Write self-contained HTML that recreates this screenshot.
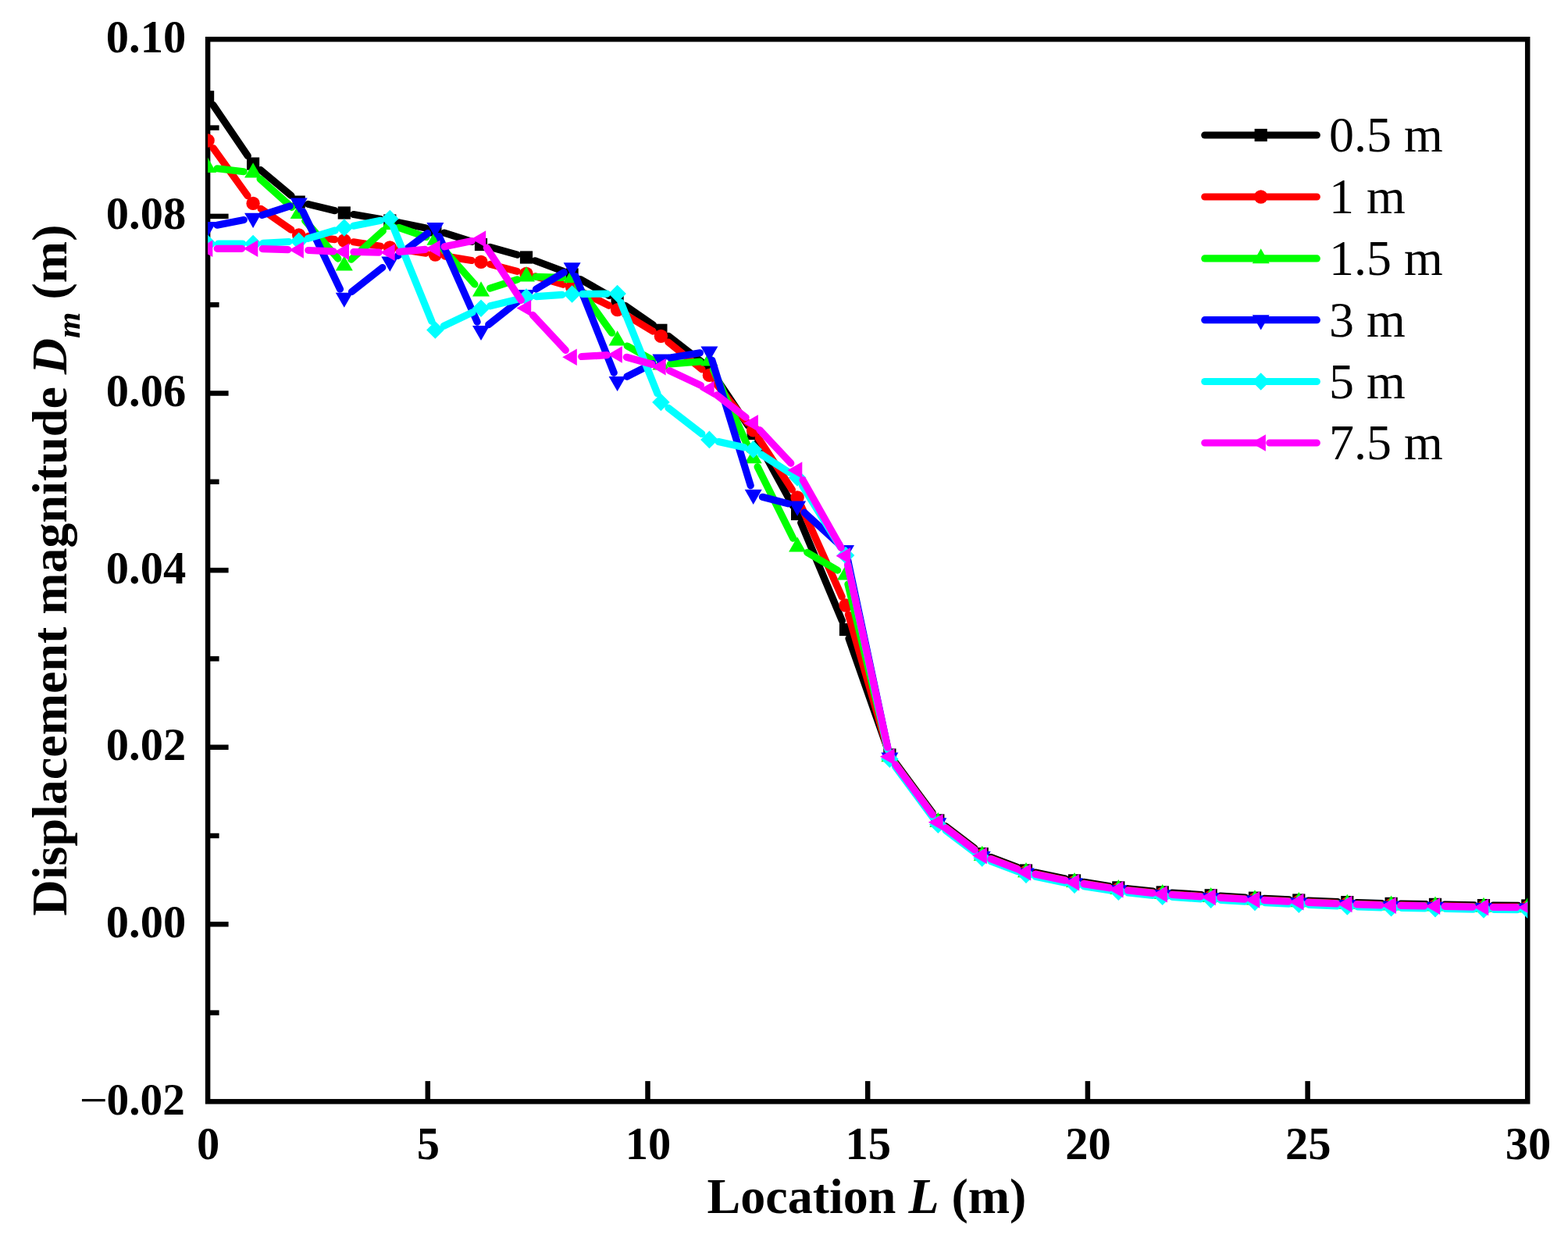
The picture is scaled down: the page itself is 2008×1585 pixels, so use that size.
<!DOCTYPE html>
<html><head><meta charset="utf-8"><title>Displacement magnitude vs Location</title>
<style>
html,body{margin:0;padding:0;background:#fff;}
body{width:2008px;height:1585px;overflow:hidden;}
svg{display:block;}
text{font-family:"Liberation Serif","Times New Roman",serif;fill:#000;}
</style></head><body>
<svg width="2008" height="1585" viewBox="0 0 2008 1585">
<rect x="0" y="0" width="2008" height="1585" fill="#fff"/>
<defs><clipPath id="pc"><rect x="266.1" y="50.3" width="1690.1" height="1360.0"/></clipPath></defs>

<g stroke="#000" stroke-width="6.5" fill="none">
<rect x="266.1" y="50.3" width="1690.1" height="1360.0" stroke-linejoin="miter"/>
<line x1="266.1" y1="1296.6" x2="280.6" y2="1296.6"/>
<line x1="266.1" y1="1183.3" x2="292.6" y2="1183.3"/>
<line x1="266.1" y1="1070.0" x2="280.6" y2="1070.0"/>
<line x1="266.1" y1="956.7" x2="292.6" y2="956.7"/>
<line x1="266.1" y1="843.4" x2="280.6" y2="843.4"/>
<line x1="266.1" y1="730.1" x2="292.6" y2="730.1"/>
<line x1="266.1" y1="616.8" x2="280.6" y2="616.8"/>
<line x1="266.1" y1="503.5" x2="292.6" y2="503.5"/>
<line x1="266.1" y1="390.2" x2="280.6" y2="390.2"/>
<line x1="266.1" y1="276.9" x2="292.6" y2="276.9"/>
<line x1="266.1" y1="163.6" x2="280.6" y2="163.6"/>
<line x1="547.8" y1="1410.3" x2="547.8" y2="1384.1"/>
<line x1="829.5" y1="1410.3" x2="829.5" y2="1384.1"/>
<line x1="1111.2" y1="1410.3" x2="1111.2" y2="1384.1"/>
<line x1="1392.9" y1="1410.3" x2="1392.9" y2="1384.1"/>
<line x1="1674.6" y1="1410.3" x2="1674.6" y2="1384.1"/>
</g>
<g clip-path="url(#pc)">
<path d="M272.9,134.3L317.3,199.6M333.8,217.7L373.0,250.5M394.5,261.4L429.0,269.7M452.7,274.5L487.4,280.5M511.2,284.9L545.5,292.0M568.9,298.1L604.4,309.3M627.6,316.3L662.4,326.2M685.3,333.8L721.3,347.2M743.1,357.5L780.1,378.5M800.6,391.3L836.4,416.0M856.2,430.4L898.6,463.4M915.1,481.0L958.0,545.0M970.5,565.6L1015.2,647.4M1025.7,669.2L1078.4,794.8M1087.0,817.4L1135.4,955.1M1146.6,976.3L1194.1,1040.6M1211.1,1057.8L1247.9,1085.8M1269.0,1097.5L1302.7,1110.2M1325.9,1117.0L1364.2,1124.9M1387.9,1129.3L1420.4,1134.5M1444.4,1137.7L1476.6,1141.1M1500.8,1143.2L1538.6,1145.5M1562.7,1147.0L1594.9,1149.0M1619.1,1150.3L1651.2,1151.9M1675.4,1153.0L1713.2,1154.6M1737.4,1155.5L1769.6,1156.5M1793.7,1157.1L1825.9,1157.7M1850.1,1158.1L1887.9,1158.9M1912.1,1159.2L1944.2,1159.4" fill="none" stroke="#000000" stroke-width="9.2" stroke-linejoin="round" stroke-linecap="round"/>
<g><rect x="258.0" y="116.2" width="16.2" height="16.2" fill="#000000"/><rect x="316.0" y="201.5" width="16.2" height="16.2" fill="#000000"/><rect x="374.6" y="250.5" width="16.2" height="16.2" fill="#000000"/><rect x="432.7" y="264.4" width="16.2" height="16.2" fill="#000000"/><rect x="491.2" y="274.4" width="16.2" height="16.2" fill="#000000"/><rect x="549.3" y="286.3" width="16.2" height="16.2" fill="#000000"/><rect x="607.9" y="304.9" width="16.2" height="16.2" fill="#000000"/><rect x="665.9" y="321.4" width="16.2" height="16.2" fill="#000000"/><rect x="724.5" y="343.4" width="16.2" height="16.2" fill="#000000"/><rect x="782.5" y="376.4" width="16.2" height="16.2" fill="#000000"/><rect x="838.3" y="414.7" width="16.2" height="16.2" fill="#000000"/><rect x="900.3" y="462.9" width="16.2" height="16.2" fill="#000000"/><rect x="956.6" y="546.9" width="16.2" height="16.2" fill="#000000"/><rect x="1013.0" y="649.9" width="16.2" height="16.2" fill="#000000"/><rect x="1074.9" y="797.9" width="16.2" height="16.2" fill="#000000"/><rect x="1131.3" y="958.4" width="16.2" height="16.2" fill="#000000"/><rect x="1193.2" y="1042.3" width="16.2" height="16.2" fill="#000000"/><rect x="1249.6" y="1085.1" width="16.2" height="16.2" fill="#000000"/><rect x="1305.9" y="1106.4" width="16.2" height="16.2" fill="#000000"/><rect x="1367.9" y="1119.3" width="16.2" height="16.2" fill="#000000"/><rect x="1424.2" y="1128.3" width="16.2" height="16.2" fill="#000000"/><rect x="1480.6" y="1134.3" width="16.2" height="16.2" fill="#000000"/><rect x="1542.6" y="1138.2" width="16.2" height="16.2" fill="#000000"/><rect x="1598.9" y="1141.6" width="16.2" height="16.2" fill="#000000"/><rect x="1655.2" y="1144.4" width="16.2" height="16.2" fill="#000000"/><rect x="1717.2" y="1147.0" width="16.2" height="16.2" fill="#000000"/><rect x="1773.5" y="1148.8" width="16.2" height="16.2" fill="#000000"/><rect x="1829.9" y="1149.8" width="16.2" height="16.2" fill="#000000"/><rect x="1891.9" y="1151.0" width="16.2" height="16.2" fill="#000000"/><rect x="1948.2" y="1151.4" width="16.2" height="16.2" fill="#000000"/></g>
<path d="M273.2,189.8L317.0,250.6M334.1,267.3L372.8,294.1M394.7,302.4L428.7,306.6M452.7,309.8L487.4,315.2M511.3,318.9L545.4,324.1M569.3,327.9L604.0,333.5M627.7,338.4L662.3,347.4M685.6,353.8L721.0,364.1M743.4,372.9L779.8,391.2M801.0,402.9L836.1,424.1M855.8,438.0L899.0,472.8M915.9,489.8L957.2,541.4M971.3,560.9L1014.4,626.9M1026.0,648.0L1078.1,764.0M1086.4,786.6L1136.0,956.7M1146.6,978.0L1194.2,1042.5M1211.0,1059.5L1248.0,1087.7M1269.0,1099.3L1302.7,1112.0M1325.9,1118.8L1364.2,1126.7M1387.9,1131.1L1420.4,1136.3M1444.4,1139.5L1476.6,1142.9M1500.8,1145.0L1538.6,1147.3M1562.7,1148.8L1594.9,1150.8M1619.1,1152.1L1651.2,1153.7M1675.4,1154.8L1713.2,1156.4M1737.4,1157.3L1769.6,1158.3M1793.7,1158.9L1825.9,1159.5M1850.1,1159.9L1887.9,1160.7M1912.1,1161.0L1944.2,1161.2" fill="none" stroke="#ff0000" stroke-width="9.2" stroke-linejoin="round" stroke-linecap="round"/>
<g><circle cx="266.1" cy="180.0" r="8.7" fill="#ff0000"/><circle cx="324.1" cy="260.4" r="8.7" fill="#ff0000"/><circle cx="382.7" cy="301.0" r="8.7" fill="#ff0000"/><circle cx="440.8" cy="308.0" r="8.7" fill="#ff0000"/><circle cx="499.3" cy="317.0" r="8.7" fill="#ff0000"/><circle cx="557.4" cy="326.0" r="8.7" fill="#ff0000"/><circle cx="616.0" cy="335.4" r="8.7" fill="#ff0000"/><circle cx="674.0" cy="350.4" r="8.7" fill="#ff0000"/><circle cx="732.6" cy="367.5" r="8.7" fill="#ff0000"/><circle cx="790.6" cy="396.6" r="8.7" fill="#ff0000"/><circle cx="846.4" cy="430.4" r="8.7" fill="#ff0000"/><circle cx="908.4" cy="480.4" r="8.7" fill="#ff0000"/><circle cx="964.7" cy="550.8" r="8.7" fill="#ff0000"/><circle cx="1021.1" cy="637.0" r="8.7" fill="#ff0000"/><circle cx="1083.0" cy="775.0" r="8.7" fill="#ff0000"/><circle cx="1139.4" cy="968.3" r="8.7" fill="#ff0000"/><circle cx="1201.3" cy="1052.2" r="8.7" fill="#ff0000"/><circle cx="1257.7" cy="1095.0" r="8.7" fill="#ff0000"/><circle cx="1314.0" cy="1116.3" r="8.7" fill="#ff0000"/><circle cx="1376.0" cy="1129.2" r="8.7" fill="#ff0000"/><circle cx="1432.3" cy="1138.2" r="8.7" fill="#ff0000"/><circle cx="1488.7" cy="1144.2" r="8.7" fill="#ff0000"/><circle cx="1550.7" cy="1148.1" r="8.7" fill="#ff0000"/><circle cx="1607.0" cy="1151.5" r="8.7" fill="#ff0000"/><circle cx="1663.3" cy="1154.3" r="8.7" fill="#ff0000"/><circle cx="1725.3" cy="1156.9" r="8.7" fill="#ff0000"/><circle cx="1781.6" cy="1158.7" r="8.7" fill="#ff0000"/><circle cx="1838.0" cy="1159.7" r="8.7" fill="#ff0000"/><circle cx="1900.0" cy="1160.9" r="8.7" fill="#ff0000"/><circle cx="1956.3" cy="1161.3" r="8.7" fill="#ff0000"/></g>
<path d="M278.1,215.8L312.1,219.7M333.1,229.1L373.7,265.4M390.7,282.6L432.8,331.1M449.8,332.1L490.4,295.6M510.8,291.4L545.9,303.5M565.4,316.4L607.9,364.0M627.5,369.2L662.5,357.8M686.1,354.3L720.5,355.3M739.7,365.4L783.5,426.2M803.3,443.0L835.8,461.1M858.5,466.0L896.3,463.0M913.4,473.0L959.7,575.8M970.1,597.6L1015.7,689.2M1033.7,707.4L1072.6,730.1M1085.9,748.0L1136.5,957.0M1146.6,978.5L1194.2,1043.0M1211.4,1060.3L1248.0,1088.2M1269.0,1099.8L1302.7,1112.5M1325.9,1119.3L1364.2,1127.2M1387.9,1131.6L1420.4,1136.8M1444.4,1140.0L1476.6,1143.4M1500.8,1145.5L1538.6,1147.8M1562.7,1149.3L1594.9,1151.3M1619.1,1152.6L1651.2,1154.2M1675.4,1155.3L1713.2,1156.9M1737.4,1157.8L1769.6,1158.8M1793.7,1159.4L1825.9,1160.0M1850.1,1160.4L1887.9,1161.2M1912.1,1161.5L1944.2,1161.7" fill="none" stroke="#00ff00" stroke-width="9.2" stroke-linejoin="round" stroke-linecap="round"/>
<g><polygon points="266.1,201.8 277.1,220.9 255.1,220.9" fill="#00ff00"/><polygon points="324.1,208.3 335.1,227.4 313.1,227.4" fill="#00ff00"/><polygon points="382.7,260.8 393.7,279.9 371.7,279.9" fill="#00ff00"/><polygon points="440.8,327.5 451.8,346.6 429.8,346.6" fill="#00ff00"/><polygon points="499.3,274.8 510.3,293.9 488.3,293.9" fill="#00ff00"/><polygon points="557.4,294.7 568.4,313.8 546.4,313.8" fill="#00ff00"/><polygon points="616.0,360.3 627.0,379.4 605.0,379.4" fill="#00ff00"/><polygon points="674.0,341.3 685.0,360.4 663.0,360.4" fill="#00ff00"/><polygon points="732.6,342.9 743.6,362.0 721.6,362.0" fill="#00ff00"/><polygon points="790.6,423.3 801.6,442.4 779.6,442.4" fill="#00ff00"/><polygon points="846.4,454.3 857.4,473.4 835.4,473.4" fill="#00ff00"/><polygon points="908.4,449.3 919.4,468.4 897.4,468.4" fill="#00ff00"/><polygon points="964.7,574.1 975.7,593.2 953.7,593.2" fill="#00ff00"/><polygon points="1021.1,687.3 1032.1,706.4 1010.1,706.4" fill="#00ff00"/><polygon points="1083.0,723.5 1094.0,742.6 1072.0,742.6" fill="#00ff00"/><polygon points="1139.4,956.1 1150.4,975.2 1128.4,975.2" fill="#00ff00"/><polygon points="1201.3,1040.0 1212.3,1059.1 1190.3,1059.1" fill="#00ff00"/><polygon points="1257.7,1082.8 1268.7,1101.9 1246.7,1101.9" fill="#00ff00"/><polygon points="1314.0,1104.1 1325.0,1123.2 1303.0,1123.2" fill="#00ff00"/><polygon points="1376.0,1117.0 1387.0,1136.1 1365.0,1136.1" fill="#00ff00"/><polygon points="1432.3,1126.0 1443.3,1145.1 1421.3,1145.1" fill="#00ff00"/><polygon points="1488.7,1132.0 1499.7,1151.1 1477.7,1151.1" fill="#00ff00"/><polygon points="1550.7,1135.9 1561.7,1155.0 1539.7,1155.0" fill="#00ff00"/><polygon points="1607.0,1139.3 1618.0,1158.4 1596.0,1158.4" fill="#00ff00"/><polygon points="1663.3,1142.1 1674.3,1161.2 1652.3,1161.2" fill="#00ff00"/><polygon points="1725.3,1144.7 1736.3,1163.8 1714.3,1163.8" fill="#00ff00"/><polygon points="1781.6,1146.5 1792.6,1165.6 1770.6,1165.6" fill="#00ff00"/><polygon points="1838.0,1147.5 1849.0,1166.6 1827.0,1166.6" fill="#00ff00"/><polygon points="1900.0,1148.7 1911.0,1167.8 1889.0,1167.8" fill="#00ff00"/><polygon points="1956.3,1149.1 1967.3,1168.2 1945.3,1168.2" fill="#00ff00"/></g>
<path d="M278.0,288.2L312.3,281.5M335.6,275.4L371.2,263.8M388.0,270.9L435.5,370.2M450.5,373.5L489.8,342.5M509.5,327.4L547.7,298.7M562.3,302.5L611.1,412.2M625.7,415.6L664.5,385.0M686.5,370.1L722.2,348.8M737.1,353.8L786.2,477.2M802.9,482.2L835.6,465.5M858.3,458.0L896.4,451.8M911.9,461.4L961.2,621.6M976.4,636.3L1009.4,644.9M1030.0,656.1L1074.1,696.3M1085.5,716.2L1136.9,958.0M1146.6,979.5L1194.2,1044.0M1211.0,1061.0L1247.7,1088.9M1269.0,1100.8L1302.7,1113.5M1325.9,1120.3L1364.2,1128.2M1387.9,1132.6L1420.4,1137.8M1444.4,1141.0L1476.6,1144.4M1500.8,1146.5L1538.6,1148.8M1562.7,1150.3L1594.9,1152.3M1619.1,1153.6L1651.2,1155.2M1675.4,1156.3L1713.2,1157.9M1737.4,1158.8L1769.6,1159.8M1793.7,1160.4L1825.9,1161.0M1850.1,1161.4L1887.9,1162.2M1912.1,1162.5L1944.2,1162.7" fill="none" stroke="#0000ff" stroke-width="9.2" stroke-linejoin="round" stroke-linecap="round"/>
<g><polygon points="266.1,303.2 277.1,284.1 255.1,284.1" fill="#0000ff"/><polygon points="324.1,291.9 335.1,272.8 313.1,272.8" fill="#0000ff"/><polygon points="382.7,272.7 393.7,253.6 371.7,253.6" fill="#0000ff"/><polygon points="440.8,393.8 451.8,374.7 429.8,374.7" fill="#0000ff"/><polygon points="499.3,347.7 510.3,328.6 488.3,328.6" fill="#0000ff"/><polygon points="557.4,304.1 568.4,285.0 546.4,285.0" fill="#0000ff"/><polygon points="616.0,436.0 627.0,416.9 605.0,416.9" fill="#0000ff"/><polygon points="674.0,390.2 685.0,371.1 663.0,371.1" fill="#0000ff"/><polygon points="732.6,355.3 743.6,336.2 721.6,336.2" fill="#0000ff"/><polygon points="790.6,501.1 801.6,482.0 779.6,482.0" fill="#0000ff"/><polygon points="846.4,472.7 857.4,453.6 835.4,453.6" fill="#0000ff"/><polygon points="908.4,462.5 919.4,443.4 897.4,443.4" fill="#0000ff"/><polygon points="964.7,645.9 975.7,626.8 953.7,626.8" fill="#0000ff"/><polygon points="1021.1,660.7 1032.1,641.6 1010.1,641.6" fill="#0000ff"/><polygon points="1083.0,717.1 1094.0,698.0 1072.0,698.0" fill="#0000ff"/><polygon points="1139.4,982.5 1150.4,963.4 1128.4,963.4" fill="#0000ff"/><polygon points="1201.3,1066.4 1212.3,1047.3 1190.3,1047.3" fill="#0000ff"/><polygon points="1257.7,1109.2 1268.7,1090.1 1246.7,1090.1" fill="#0000ff"/><polygon points="1314.0,1130.5 1325.0,1111.4 1303.0,1111.4" fill="#0000ff"/><polygon points="1376.0,1143.4 1387.0,1124.3 1365.0,1124.3" fill="#0000ff"/><polygon points="1432.3,1152.4 1443.3,1133.3 1421.3,1133.3" fill="#0000ff"/><polygon points="1488.7,1158.4 1499.7,1139.3 1477.7,1139.3" fill="#0000ff"/><polygon points="1550.7,1162.3 1561.7,1143.2 1539.7,1143.2" fill="#0000ff"/><polygon points="1607.0,1165.7 1618.0,1146.6 1596.0,1146.6" fill="#0000ff"/><polygon points="1663.3,1168.5 1674.3,1149.4 1652.3,1149.4" fill="#0000ff"/><polygon points="1725.3,1171.1 1736.3,1152.0 1714.3,1152.0" fill="#0000ff"/><polygon points="1781.6,1172.9 1792.6,1153.8 1770.6,1153.8" fill="#0000ff"/><polygon points="1838.0,1173.9 1849.0,1154.8 1827.0,1154.8" fill="#0000ff"/><polygon points="1900.0,1175.1 1911.0,1156.0 1889.0,1156.0" fill="#0000ff"/><polygon points="1956.3,1175.5 1967.3,1156.4 1945.3,1156.4" fill="#0000ff"/></g>
<path d="M279.5,312.0L310.7,312.0M336.9,311.3L369.9,309.5M394.3,305.3L429.2,295.0M452.6,289.2L487.5,282.3M503.9,291.2L552.8,411.3M568.3,417.3L605.0,399.9M627.7,391.8L662.2,383.4M686.7,379.6L719.9,377.4M745.9,376.4L777.3,376.1M795.1,387.2L841.9,503.8M856.0,522.4L898.8,555.5M920.2,565.5L952.9,572.8M974.9,581.9L1010.9,605.0M1027.5,621.8L1076.6,700.7M1085.6,722.8L1136.8,960.0M1146.6,981.5L1194.2,1046.0M1211.0,1063.0L1248.0,1091.2M1269.0,1102.8L1302.7,1115.5M1325.9,1122.3L1364.2,1130.2M1387.9,1134.6L1420.4,1139.8M1444.6,1143.0L1476.4,1146.4M1501.4,1148.5L1537.9,1150.8M1563.4,1152.4L1594.2,1154.2M1619.9,1155.6L1650.5,1157.2M1676.3,1158.3L1712.4,1159.9M1738.4,1160.8L1768.6,1161.8M1794.8,1162.4L1824.8,1163.0M1851.2,1163.5L1886.8,1164.1M1913.3,1164.5L1943.0,1164.7" fill="none" stroke="#00ffff" stroke-width="9.2" stroke-linejoin="round" stroke-linecap="round"/>
<g><polygon points="266.1,300.7 277.4,312.0 266.1,323.3 254.8,312.0" fill="#00ffff"/><polygon points="324.1,300.7 335.4,312.0 324.1,323.3 312.8,312.0" fill="#00ffff"/><polygon points="382.7,297.5 394.0,308.8 382.7,320.1 371.4,308.8" fill="#00ffff"/><polygon points="440.8,280.2 452.1,291.5 440.8,302.8 429.5,291.5" fill="#00ffff"/><polygon points="499.3,268.7 510.6,280.0 499.3,291.3 488.0,280.0" fill="#00ffff"/><polygon points="557.4,411.2 568.7,422.5 557.4,433.8 546.1,422.5" fill="#00ffff"/><polygon points="616.0,383.4 627.3,394.7 616.0,406.0 604.7,394.7" fill="#00ffff"/><polygon points="674.0,369.2 685.3,380.5 674.0,391.8 662.7,380.5" fill="#00ffff"/><polygon points="732.6,365.2 743.9,376.5 732.6,387.8 721.3,376.5" fill="#00ffff"/><polygon points="790.6,364.7 801.9,376.0 790.6,387.3 779.3,376.0" fill="#00ffff"/><polygon points="846.4,503.7 857.7,515.0 846.4,526.3 835.1,515.0" fill="#00ffff"/><polygon points="908.4,551.6 919.7,562.9 908.4,574.2 897.1,562.9" fill="#00ffff"/><polygon points="964.7,564.1 976.0,575.4 964.7,586.7 953.4,575.4" fill="#00ffff"/><polygon points="1021.1,600.2 1032.4,611.5 1021.1,622.8 1009.8,611.5" fill="#00ffff"/><polygon points="1083.0,699.7 1094.3,711.0 1083.0,722.3 1071.7,711.0" fill="#00ffff"/><polygon points="1139.4,960.5 1150.7,971.8 1139.4,983.1 1128.1,971.8" fill="#00ffff"/><polygon points="1201.3,1044.4 1212.6,1055.7 1201.3,1067.0 1190.0,1055.7" fill="#00ffff"/><polygon points="1257.7,1087.2 1269.0,1098.5 1257.7,1109.8 1246.4,1098.5" fill="#00ffff"/><polygon points="1314.0,1108.5 1325.3,1119.8 1314.0,1131.1 1302.7,1119.8" fill="#00ffff"/><polygon points="1376.0,1121.4 1387.3,1132.7 1376.0,1144.0 1364.7,1132.7" fill="#00ffff"/><polygon points="1432.3,1130.4 1443.6,1141.7 1432.3,1153.0 1421.0,1141.7" fill="#00ffff"/><polygon points="1488.7,1136.4 1500.0,1147.7 1488.7,1159.0 1477.4,1147.7" fill="#00ffff"/><polygon points="1550.7,1140.3 1562.0,1151.6 1550.7,1162.9 1539.4,1151.6" fill="#00ffff"/><polygon points="1607.0,1143.7 1618.3,1155.0 1607.0,1166.3 1595.7,1155.0" fill="#00ffff"/><polygon points="1663.3,1146.5 1674.6,1157.8 1663.3,1169.1 1652.0,1157.8" fill="#00ffff"/><polygon points="1725.3,1149.1 1736.6,1160.4 1725.3,1171.7 1714.0,1160.4" fill="#00ffff"/><polygon points="1781.6,1150.9 1792.9,1162.2 1781.6,1173.5 1770.3,1162.2" fill="#00ffff"/><polygon points="1838.0,1151.9 1849.3,1163.2 1838.0,1174.5 1826.7,1163.2" fill="#00ffff"/><polygon points="1900.0,1153.1 1911.3,1164.4 1900.0,1175.7 1888.7,1164.4" fill="#00ffff"/><polygon points="1956.3,1153.5 1967.6,1164.8 1956.3,1176.1 1945.0,1164.8" fill="#00ffff"/></g>
<path d="M278.2,318.3L309.6,318.3M336.2,318.7L368.8,319.6M394.8,320.5L427.0,321.8M452.9,322.5L485.2,323.1M511.4,322.3L544.5,319.4M569.2,315.8L604.1,308.5M623.3,317.2L667.4,384.4M682.3,403.3L724.3,448.4M744.7,456.5L777.2,454.7M802.3,457.3L834.7,466.3M857.4,474.7L897.4,493.4M918.0,505.9L955.1,534.4M973.0,550.6L1012.8,593.2M1028.1,614.5L1077.1,701.3M1085.6,723.6L1136.8,957.0M1146.8,978.9L1194.2,1043.0M1211.0,1060.0L1248.0,1088.2M1269.0,1099.8L1302.7,1112.5M1325.9,1119.3L1364.2,1127.2M1387.9,1131.6L1420.4,1136.8M1444.4,1140.0L1476.1,1143.4M1500.8,1145.5L1537.4,1147.8M1562.7,1149.3L1593.7,1151.2M1619.1,1152.6L1649.8,1154.1M1675.4,1155.3L1711.6,1156.8M1737.4,1157.8L1767.8,1158.8M1793.7,1159.4L1823.8,1159.9M1850.1,1160.4L1885.9,1161.1M1912.1,1161.5L1941.9,1161.7" fill="none" stroke="#ff00ff" stroke-width="9.2" stroke-linejoin="round" stroke-linecap="round"/>
<g><polygon points="253.7,318.3 272.3,307.6 272.3,329.1" fill="#ff00ff"/><polygon points="311.7,318.3 330.3,307.6 330.3,329.1" fill="#ff00ff"/><polygon points="370.3,320.0 388.9,309.2 388.9,330.8" fill="#ff00ff"/><polygon points="428.3,322.3 447.0,311.6 447.0,333.1" fill="#ff00ff"/><polygon points="486.9,323.3 505.6,312.6 505.6,334.1" fill="#ff00ff"/><polygon points="545.0,318.3 563.6,307.6 563.6,329.1" fill="#ff00ff"/><polygon points="603.6,306.0 622.2,295.2 622.2,316.8" fill="#ff00ff"/><polygon points="661.6,394.5 680.2,383.8 680.2,405.2" fill="#ff00ff"/><polygon points="720.2,457.2 738.8,446.4 738.8,467.9" fill="#ff00ff"/><polygon points="778.2,454.0 796.8,443.2 796.8,464.8" fill="#ff00ff"/><polygon points="834.0,469.6 852.6,458.9 852.6,480.4" fill="#ff00ff"/><polygon points="896.0,498.5 914.6,487.8 914.6,509.2" fill="#ff00ff"/><polygon points="952.3,541.8 970.9,531.0 970.9,552.5" fill="#ff00ff"/><polygon points="1008.6,602.0 1027.3,591.2 1027.3,612.8" fill="#ff00ff"/><polygon points="1070.6,711.8 1089.2,701.0 1089.2,722.5" fill="#ff00ff"/><polygon points="1127.0,968.8 1145.6,958.0 1145.6,979.5" fill="#ff00ff"/><polygon points="1188.9,1052.7 1207.6,1042.0 1207.6,1063.5" fill="#ff00ff"/><polygon points="1245.3,1095.5 1263.9,1084.8 1263.9,1106.2" fill="#ff00ff"/><polygon points="1301.6,1116.8 1320.2,1106.0 1320.2,1127.5" fill="#ff00ff"/><polygon points="1363.6,1129.7 1382.2,1119.0 1382.2,1140.5" fill="#ff00ff"/><polygon points="1419.9,1138.7 1438.5,1128.0 1438.5,1149.5" fill="#ff00ff"/><polygon points="1476.3,1144.7 1494.9,1134.0 1494.9,1155.5" fill="#ff00ff"/><polygon points="1538.2,1148.6 1556.9,1137.8 1556.9,1159.3" fill="#ff00ff"/><polygon points="1594.6,1152.0 1613.2,1141.2 1613.2,1162.8" fill="#ff00ff"/><polygon points="1650.9,1154.8 1669.5,1144.0 1669.5,1165.5" fill="#ff00ff"/><polygon points="1712.9,1157.4 1731.5,1146.7 1731.5,1168.2" fill="#ff00ff"/><polygon points="1769.2,1159.2 1787.9,1148.5 1787.9,1170.0" fill="#ff00ff"/><polygon points="1825.6,1160.2 1844.2,1149.5 1844.2,1171.0" fill="#ff00ff"/><polygon points="1887.5,1161.4 1906.2,1150.7 1906.2,1172.2" fill="#ff00ff"/><polygon points="1943.9,1161.8 1962.5,1151.0 1962.5,1172.5" fill="#ff00ff"/></g>
</g>
<g font-weight="bold" font-size="58.5" text-anchor="end">
<text y="1427" text-anchor="start" font-size="57.3"><tspan x="101.7" dy="3" font-weight="normal" font-size="64">−</tspan><tspan x="136.6" dy="-3">0.02</tspan></text>
<text x="238.2" y="1199.8">0.00</text>
<text x="238.2" y="973.2">0.02</text>
<text x="238.2" y="746.6">0.04</text>
<text x="238.2" y="520.0">0.06</text>
<text x="238.2" y="293.4">0.08</text>
<text x="238.2" y="66.8">0.10</text>
</g>
<g font-weight="bold" font-size="58.5" text-anchor="middle">
<text x="266.7" y="1484.3">0</text>
<text x="548.4" y="1484.3">5</text>
<text x="830.1" y="1484.3">10</text>
<text x="1111.8" y="1484.3">15</text>
<text x="1393.5" y="1484.3">20</text>
<text x="1675.2" y="1484.3">25</text>
<text x="1956.9" y="1484.3">30</text>
</g>
<text x="1110" y="1552.9" font-size="64" font-weight="bold" text-anchor="middle">Location <tspan font-style="italic">L</tspan> (m)</text>
<text transform="translate(84.5,730) rotate(-90)" font-size="64" font-weight="bold" text-anchor="middle">Displacement magnitude <tspan font-style="italic">D</tspan><tspan font-style="italic" font-size="43" dy="17">m</tspan><tspan dy="-17"> (m)</tspan></text>
<path d="M1542.8,173.0H1686.3" stroke="#000000" stroke-width="9.2" stroke-linecap="round" fill="none"/>
<rect x="1606.6" y="164.9" width="16.2" height="16.2" fill="#000000"/>
<text x="1702" y="194.1" font-size="64">0.5 m</text>
<path d="M1542.8,252.0H1686.3" stroke="#ff0000" stroke-width="9.2" stroke-linecap="round" fill="none"/>
<circle cx="1614.7" cy="252.0" r="8.7" fill="#ff0000"/>
<text x="1702" y="273.1" font-size="64">1 m</text>
<path d="M1542.8,330.9H1686.3" stroke="#00ff00" stroke-width="9.2" stroke-linecap="round" fill="none"/>
<polygon points="1614.7,318.2 1625.7,337.3 1603.7,337.3" fill="#00ff00"/>
<text x="1702" y="352.0" font-size="64">1.5 m</text>
<path d="M1542.8,409.7H1686.3" stroke="#0000ff" stroke-width="9.2" stroke-linecap="round" fill="none"/>
<polygon points="1614.7,422.4 1625.7,403.3 1603.7,403.3" fill="#0000ff"/>
<text x="1702" y="430.8" font-size="64">3 m</text>
<path d="M1542.8,488.5H1686.3" stroke="#00ffff" stroke-width="9.2" stroke-linecap="round" fill="none"/>
<polygon points="1614.7,477.2 1626.0,488.5 1614.7,499.8 1603.4,488.5" fill="#00ffff"/>
<text x="1702" y="509.6" font-size="64">5 m</text>
<path d="M1542.8,567.0H1614.7M1625.8,567.0H1686.3" stroke="#ff00ff" stroke-width="9.2" stroke-linecap="round" fill="none"/>
<polygon points="1602.3,567.0 1620.9,556.2 1620.9,577.8" fill="#ff00ff"/>
<text x="1702" y="588.1" font-size="64">7.5 m</text>
</svg>
</body></html>
